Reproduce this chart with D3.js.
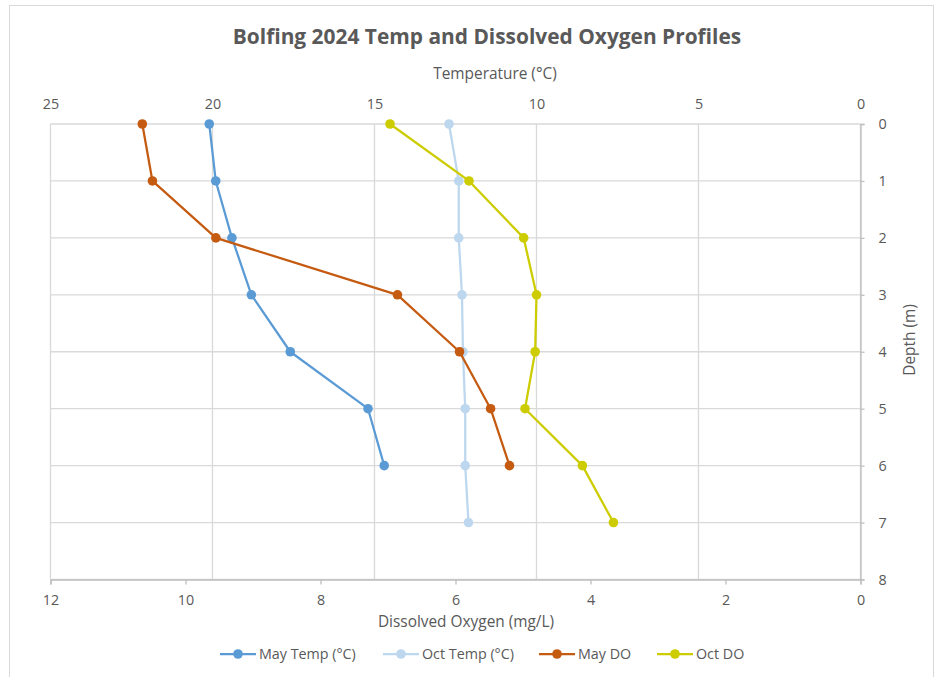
<!DOCTYPE html>
<html>
<head>
<meta charset="utf-8">
<script src="https://cdn.jsdelivr.net/npm/d3@7"></script>
<style>
  body { margin: 0; background: #fff; }
  svg { display: block; }
  text { font-family: "Open Sans", "Noto Sans", sans-serif; fill: #595959; }
</style>
</head>
<body>
<svg id="chart" width="935" height="677"></svg>
<script>
// ---- Data ----
const depths = [0, 1, 2, 3, 4, 5, 6, 7];
const mayTemp = [20.1, 19.9, 19.4, 18.8, 17.6, 15.2, 14.7];
const octTemp = [12.7, 12.4, 12.4, 12.3, 12.27, 12.2, 12.2, 12.1];
const mayDO = [10.64, 10.49, 9.55, 6.86, 5.94, 5.48, 5.2];
const octDO = [6.97, 5.8, 4.99, 4.8, 4.82, 4.97, 4.12, 3.66];
const tempTicks = [25, 20, 15, 10, 5, 0];
const doTicks = [12, 10, 8, 6, 4, 2, 0];
const depthTicks = [0, 1, 2, 3, 4, 5, 6, 7, 8];
const seriesNames = ["May Temp (°C)", "Oct Temp (°C)", "May DO", "Oct DO"];
const seriesColors = ["#5B9BD5", "#BDD7EE", "#C55A11", "#CCCC00"];

const svg = d3.select("#chart");
const L = 50.5, R = 860.5, T = 124, B = 579.5;

// chart border
svg.append("rect").attr("x", 9.5).attr("y", 5.5).attr("width", 924).attr("height", 700)
  .attr("fill", "none").attr("stroke", "#d9d9d9").attr("stroke-width", 1);

const xTemp = d3.scaleLinear().domain([25, 0]).range([L, R]);
const xDO = d3.scaleLinear().domain([12, 0]).range([L, R]);
const y = d3.scaleLinear().domain([0, 8]).range([T, B]);

// gridlines (temperature vertical, depth horizontal)
const grid = svg.append("g");
grid.selectAll("line.v").data(tempTicks).join("line")
  .attr("x1", d => xTemp(d)).attr("x2", d => xTemp(d)).attr("y1", T).attr("y2", B)
  .attr("stroke", "#d9d9d9").attr("stroke-width", 1.3);
grid.selectAll("line.h").data(depthTicks).join("line")
  .attr("x1", L).attr("x2", R).attr("y1", d => y(d)).attr("y2", d => y(d))
  .attr("stroke", "#d9d9d9").attr("stroke-width", 1.3);

const tickFont = 14.3;

// top temperature axis labels
const topAxis = svg.append("g").attr("transform", `translate(0,${T})`)
  .call(d3.axisTop(xTemp).tickValues(tempTicks).tickSize(0).tickPadding(15));
topAxis.select(".domain").remove();
topAxis.selectAll("text").attr("font-size", tickFont).style("fill", "#595959")
  .attr("font-family", "'Open Sans', sans-serif");

// bottom DO axis
const botAxis = svg.append("g").attr("transform", `translate(0,${B})`)
  .call(d3.axisBottom(xDO).tickValues(doTicks).tickSizeOuter(0).tickSize(5).tickPadding(10));
botAxis.select(".domain").attr("stroke", "#bfbfbf").attr("stroke-width", 1.3);
botAxis.selectAll(".tick line").attr("stroke", "#bfbfbf").attr("stroke-width", 1.3);
botAxis.selectAll("text").attr("font-size", tickFont).style("fill", "#595959")
  .attr("font-family", "'Open Sans', sans-serif");

// right depth axis
const rightAxis = svg.append("g").attr("transform", `translate(${R},0)`)
  .call(d3.axisRight(y).tickValues(depthTicks).tickSizeOuter(0).tickSize(4).tickPadding(14));
rightAxis.select(".domain").attr("stroke", "#bfbfbf").attr("stroke-width", 1.3);
rightAxis.selectAll(".tick line").attr("stroke", "#bfbfbf").attr("stroke-width", 1.3);
rightAxis.selectAll("text").attr("font-size", tickFont).style("fill", "#595959")
  .attr("font-family", "'Open Sans', sans-serif");

// titles
svg.append("text").attr("x", 487).attr("y", 44).attr("text-anchor", "middle")
  .attr("font-size", 20.9).attr("font-weight", "bold").text("Bolfing 2024 Temp and Dissolved Oxygen Profiles");
svg.append("text").attr("x", 495).attr("y", 79).attr("text-anchor", "middle")
  .attr("font-size", 15.4).text("Temperature (°C)");
svg.append("text").attr("x", 466).attr("y", 627).attr("text-anchor", "middle")
  .attr("font-size", 15.4).text("Dissolved Oxygen (mg/L)");
svg.append("text").attr("transform", "translate(915,340) rotate(-90)").attr("text-anchor", "middle")
  .attr("font-size", 15.4).text("Depth (m)");

// series
const series = [
  { vals: mayTemp, x: xTemp },
  { vals: octTemp, x: xTemp },
  { vals: mayDO, x: xDO },
  { vals: octDO, x: xDO }
];
series.forEach((s, i) => {
  const pts = s.vals.map((v, j) => [s.x(v), y(depths[j])]);
  svg.append("path").attr("d", d3.line()(pts)).attr("fill", "none")
    .attr("stroke", seriesColors[i]).attr("stroke-width", 2.25).attr("stroke-linejoin", "round");
  svg.append("g").selectAll("circle").data(pts).join("circle")
    .attr("cx", d => d[0]).attr("cy", d => d[1]).attr("r", 4.8).attr("fill", seriesColors[i]);
});

// legend
const legX = [220, 383, 539, 657];
const leg = svg.append("g");
seriesNames.forEach((n, i) => {
  const g = leg.append("g").attr("transform", `translate(${legX[i]},654)`);
  g.append("line").attr("x1", 0).attr("x2", 36).attr("y1", 0).attr("y2", 0)
    .attr("stroke", seriesColors[i]).attr("stroke-width", 2.25);
  g.append("circle").attr("cx", 18).attr("cy", 0).attr("r", 4.8).attr("fill", seriesColors[i]);
  g.append("text").attr("x", 39).attr("y", 5).attr("font-size", 14.3).text(n);
});
</script>
</body>
</html>
